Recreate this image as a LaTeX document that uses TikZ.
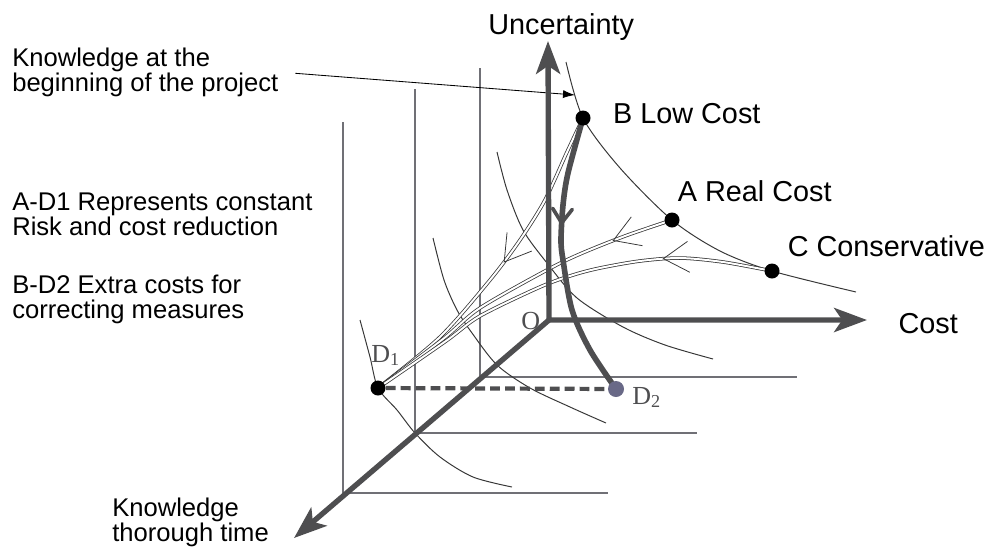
\documentclass[tikz,border=0pt]{standalone}
\usepackage{fontspec}
\setmainfont{Liberation Sans}
\newfontfamily\serifD{Liberation Serif}
\usetikzlibrary{arrows.meta,positioning,decorations.markings,backgrounds}
\definecolor{axisgrey}{RGB}{78,78,80}
\definecolor{gridgrey}{RGB}{112,112,118}
\definecolor{arcgrey}{RGB}{55,55,55}
\definecolor{dtwo}{RGB}{105,105,135}

\begin{document}
\begin{tikzpicture}[x=0.025cm,y=-0.025cm,
  >={Stealth[length=8.2mm,width=6mm,inset=2mm]},
  txt/.style={font={\fontsize{18.2}{17.7}\selectfont},inner sep=0pt,align=left,anchor=west},
  lab/.style={font={\fontsize{20.5}{24}\selectfont},inner sep=0pt},
  dlab/.style={font={\serifD\fontsize{18.5}{20}\selectfont},text=axisgrey,inner sep=0pt,anchor=base west},
  blob/.style={circle,fill=black,inner sep=0pt,minimum size=3.75mm},
  axis/.style={axisgrey,line width=3.8pt,line join=miter},
  gridl/.style={gridgrey,line width=1.1pt},
  isoc/.style={arcgrey,line width=0.7pt},
  flow/.style={arcgrey,line width=0.55pt,double=white,double distance=1.4pt},
  trail/.style={axisgrey,line width=4pt,line cap=round,line join=round},
  barb/.style={postaction={decorate,decoration={markings,mark=at position #1 with
    {\draw[arcgrey,line width=0.55pt] (-18pt,11pt) -- (0pt,0pt) -- (-18pt,-11pt);}}}},
  bigbarb/.style={postaction={decorate,decoration={markings,mark=at position #1 with
    {\draw[axisgrey,line width=2.6pt,line cap=round] (-10pt,7pt) -- (0pt,0pt) -- (-10pt,-7pt);}}}},
  pointer/.style={-{Latex[length=3mm,width=2mm]},line width=0.6pt},
  dashline/.style={axisgrey,line width=3pt,dash pattern=on 7pt off 3.6pt}]

\useasboundingbox (0,0) rectangle (990,548);

% axes
\coordinate (o)  at (549,320);
\coordinate (ty) at (548,41);
\coordinate (tx) at (867,320);
\coordinate (tz) at (294,538);
\coordinate (kpt) at (575,95);

% points
\node[blob] (b)  at (583,118) {};
\node[blob] (a)  at (672,220) {};
\node[blob] (c)  at (772,271) {};
\node[blob] (d1) at (378,388) {};
\node[blob,fill=dtwo,minimum size=4mm] (d2) at (616,389) {};

\node[lab,right=5.5mm of b,yshift=1.2mm] (lb) {B Low Cost};
\node[lab,above right=3.1mm and 0mm of a] (la) {A Real Cost};
\node[lab,above right=2.1mm and 2.5mm of c] (lc) {C Conservative};
\node[lab,above=0mm of ty,xshift=3.3mm] (unc) {Uncertainty};
\node[lab,right=7.8mm of tx,yshift=-1mm] (cost) {Cost};

\node[dlab] (ld1) at (371,362) {D\textsubscript{1}};
\node[dlab] (ld2) at (632,404) {D\textsubscript{2}};
\node[dlab] (lo)  at (521,329) {O};

\node[txt] (know)  at (12,72)   {Knowledge at the\\beginning of the project};
\node[txt] (adone) at (12,214)  {A-D1 Represents constant\\Risk and cost reduction};
\node[txt] (bdtwo) at (12,299)  {B-D2 Extra costs for\\correcting measures};
\node[txt] (time)  at (112,522) {Knowledge\\thorough time};

\begin{scope}[on background layer]
\foreach \x/\t/\y/\r in {343/122/493/608,415/89/433/697,480/68/377/797}
  \draw[gridl] (\x,\t) -- (\x,\y) -- (\r,\y);

\draw[isoc] plot[smooth] coordinates {(566,62) (583,118) (620,168) (672,220) (720,251) (772,271) (856,292)};
\draw[isoc] plot[smooth] coordinates {(497,152) (507,190) (523,230) (547,263) (577,298) (623,327) (665,345) (713,359)};
\draw[isoc] plot[smooth] coordinates {(433,238) (444,280) (457,310) (472,333) (497,365) (530,388) (570,407) (606,423)};
\draw[isoc] plot[smooth] coordinates {(360,320) (370,357) (378,388) (397,410) (415,433) (440,457) (473,477) (512,487)};

\draw[pointer,shorten <=4.2mm] (know.east) -- (kpt);

\draw[flow,barb=0.479] plot[smooth] coordinates {(b) (567,152) (545,200) (520,240) (490,280) (440,337) (d1)};
\draw[flow,barb=0.182] plot[smooth] coordinates {(a) (625,236) (580,254) (547,270) (480,308) (443,339) (d1)};
\draw[flow,barb=0.256] plot[smooth] coordinates {(c) (723,262) (680,258) (640,261) (600,268) (573,275) (540,287) (480,316) (446,341) (d1)};

\draw[axis,<->] (ty) -- (o) -- (tx);
\draw[axis,->] (o) -- (tz);

\draw[trail,bigbarb=0.375] plot[smooth] coordinates {(b) (568,173) (563,205) (561,240) (563,260) (572,310) (590,350) (d2)};
\draw[dashline] (d1) -- (d2);
\end{scope}
\end{tikzpicture}
\end{document}
